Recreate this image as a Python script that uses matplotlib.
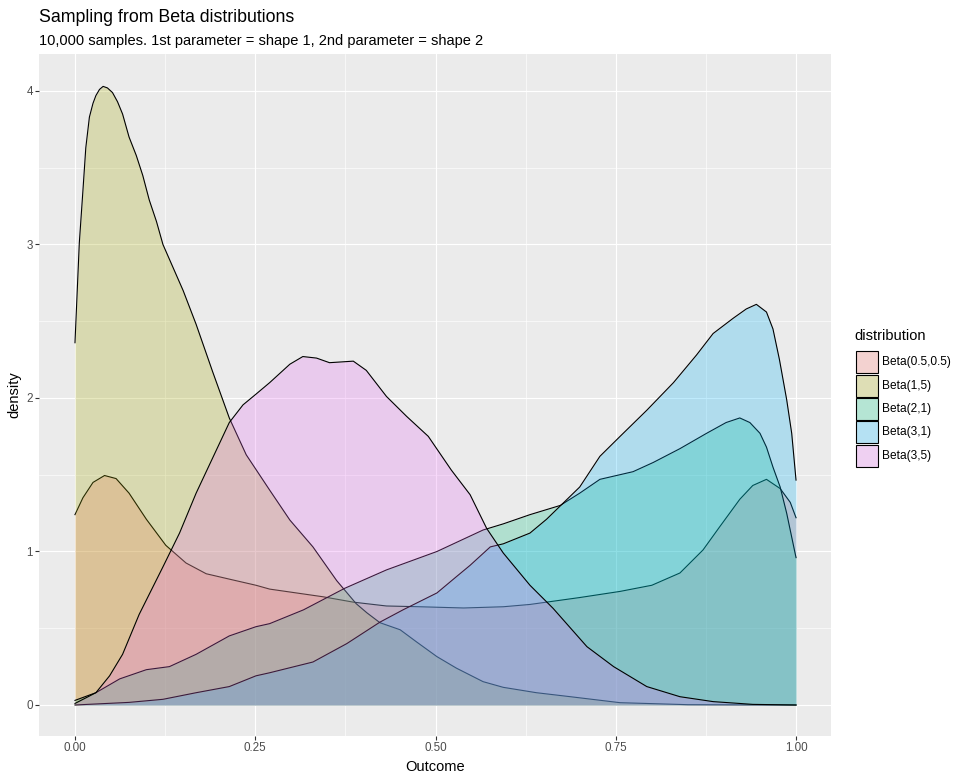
import matplotlib
matplotlib.use("Agg")
import matplotlib.pyplot as plt
from matplotlib.patches import Rectangle
from matplotlib.colors import to_rgba

plt.rcParams["font.family"] = ["Liberation Sans", "DejaVu Sans"]

labels = ["Beta(0.5,0.5)", "Beta(1,5)", "Beta(2,1)", "Beta(3,1)", "Beta(3,5)"]
colors = ["#F8766D", "#A3A500", "#00BF7D", "#00B0F6", "#E76BF3"]

# density curves
x_05_05 = [0, 0.011, 0.025, 0.041, 0.057, 0.075, 0.099, 0.126, 0.154, 0.182, 0.214,
           0.251, 0.27, 0.344, 0.386, 0.432, 0.478, 0.539, 0.594, 0.631, 0.654, 0.70,
           0.756, 0.80, 0.839, 0.871, 0.894, 0.922, 0.94, 0.959, 0.978, 0.992, 1.0]
y_05_05 = [1.24, 1.35, 1.45, 1.495, 1.475, 1.38, 1.21, 1.04, 0.925, 0.855, 0.82,
           0.78, 0.755, 0.705, 0.67, 0.645, 0.64, 0.632, 0.64, 0.655, 0.67, 0.70,
           0.74, 0.78, 0.86, 1.01, 1.16, 1.34, 1.43, 1.47, 1.41, 1.32, 1.22]

x_1_5 = [0, 0.006, 0.011, 0.015, 0.02, 0.025, 0.029, 0.034, 0.039, 0.045, 0.052,
         0.059, 0.066, 0.075, 0.085, 0.094, 0.103, 0.113, 0.122, 0.15, 0.168,
         0.191, 0.214, 0.2375, 0.27, 0.298, 0.33, 0.363, 0.39, 0.405, 0.423, 0.451,
         0.474, 0.502, 0.529, 0.566, 0.594, 0.64, 0.687, 0.756, 0.85, 1.0]
y_1_5 = [2.36, 3.01, 3.35, 3.63, 3.83, 3.92, 3.97, 4.01, 4.03, 4.02, 3.99,
         3.93, 3.85, 3.70, 3.58, 3.45, 3.29, 3.15, 3.0, 2.70, 2.48,
         2.17, 1.87, 1.63, 1.40, 1.205, 1.03, 0.81, 0.66, 0.60, 0.536, 0.49,
         0.41, 0.315, 0.24, 0.152, 0.115, 0.08, 0.054, 0.015, 0.002, 0.0]

x_2_1 = [0, 0.029, 0.062, 0.099, 0.131, 0.168, 0.214, 0.251, 0.27, 0.317, 0.374,
         0.432, 0.502, 0.566, 0.594, 0.631, 0.673, 0.70, 0.728, 0.774, 0.802, 0.839,
         0.876, 0.903, 0.922, 0.936, 0.95, 0.959, 0.968, 0.978, 0.987, 1.0]
y_2_1 = [0.03, 0.08, 0.17, 0.23, 0.25, 0.33, 0.45, 0.51, 0.53, 0.62, 0.76,
         0.88, 1.0, 1.14, 1.18, 1.24, 1.30, 1.38, 1.47, 1.52, 1.58, 1.67,
         1.77, 1.84, 1.87, 1.84, 1.77, 1.68, 1.55, 1.42, 1.25, 0.96]

x_3_1 = [0, 0.075, 0.122, 0.168, 0.214, 0.251, 0.27, 0.33, 0.377, 0.423, 0.455,
         0.502, 0.529, 0.548, 0.576, 0.594, 0.631, 0.654, 0.677, 0.70, 0.728, 0.756,
         0.793, 0.83, 0.862, 0.885, 0.913, 0.931, 0.945, 0.959, 0.968, 0.977, 0.987,
         0.994, 1.0]
y_3_1 = [0.0, 0.017, 0.037, 0.08, 0.12, 0.19, 0.21, 0.28, 0.40, 0.54, 0.62,
         0.73, 0.836, 0.91, 1.03, 1.05, 1.12, 1.21, 1.315, 1.42, 1.62, 1.75,
         1.92, 2.10, 2.28, 2.42, 2.52, 2.58, 2.61, 2.56, 2.45, 2.25, 1.99,
         1.77, 1.465]

x_3_5 = [0, 0.029, 0.048, 0.066, 0.089, 0.122, 0.145, 0.168, 0.196, 0.214, 0.233,
         0.251, 0.27, 0.298, 0.316, 0.335, 0.353, 0.386, 0.404, 0.432, 0.46, 0.49,
         0.522, 0.548, 0.571, 0.594, 0.631, 0.663, 0.71, 0.747, 0.793, 0.839, 0.885,
         0.94, 1.0]
y_3_5 = [0.01, 0.08, 0.19, 0.33, 0.59, 0.90, 1.12, 1.38, 1.66, 1.84, 1.955,
         2.025, 2.10, 2.22, 2.27, 2.26, 2.23, 2.24, 2.18, 2.01, 1.88, 1.75,
         1.53, 1.37, 1.15, 0.99, 0.78, 0.63, 0.38, 0.25, 0.12, 0.054, 0.022,
         0.004, 0.0]

curves = [(x_05_05, y_05_05), (x_1_5, y_1_5), (x_2_1, y_2_1), (x_3_1, y_3_1), (x_3_5, y_3_5)]

x_ticks = [0, 0.25, 0.5, 0.75, 1.0]
x_ticklabels = ["0.00", "0.25", "0.50", "0.75", "1.00"]
y_ticks = [0, 1, 2, 3, 4]

W, H = 969, 781
fig = plt.figure(figsize=(W / 100, H / 100), dpi=100)


def fx(px):
    return px / W


def fy(py):
    return 1 - py / H


ax = fig.add_axes([fx(39), fy(736), (831 - 39) / W, (736 - 54) / H])
ax.set_facecolor("#EBEBEB")
for s in ax.spines.values():
    s.set_visible(False)

ax.set_xlim(-0.0499, 1.0485)
ax.set_ylim(-0.202, 4.241)
ax.set_xticks(x_ticks)
ax.set_xticklabels(x_ticklabels)
ax.set_yticks(y_ticks)
ax.set_xticks([0.125, 0.375, 0.625, 0.875], minor=True)
ax.set_yticks([0.5, 1.5, 2.5, 3.5], minor=True)
ax.grid(which="major", color="white", linewidth=0.85)
ax.grid(which="minor", color="white", linewidth=0.45)
ax.set_axisbelow(True)
ax.tick_params(which="major", length=2.7, width=0.8, color="#333333",
               labelsize=8.4, labelcolor="#4D4D4D", pad=1.6)
ax.tick_params(which="minor", length=0)

for i, (xs, ys) in enumerate(curves):
    ax.fill_between(xs, 0, ys, color=colors[i], alpha=0.25, linewidth=0, zorder=2 + 2 * i)
    ax.plot(xs, ys, color="black", linewidth=0.8, zorder=3 + 2 * i)

ax.set_xlabel("Outcome", fontsize=10.5, labelpad=4.5)
ax.set_ylabel("density", fontsize=10.5, labelpad=4)

fig.text(fx(39), fy(21.7), "Sampling from Beta distributions", fontsize=12.8, va="baseline")
fig.text(fx(39), fy(45), "10,000 samples. 1st parameter = shape 1, 2nd parameter = shape 2",
         fontsize=10.5, va="baseline")

# legend
fig.text(fx(854), fy(340.5), "distribution", fontsize=10.5, va="baseline")
for i, lab in enumerate(labels):
    cy = 362.3 + i * 23.4
    fig.add_artist(Rectangle((fx(856), fy(cy + 11)), 22 / W, 22 / H,
                             transform=fig.transFigure, facecolor="#F2F2F2", edgecolor="none"))
    fig.add_artist(Rectangle((fx(856), fy(cy + 11)), 22 / W, 22 / H,
                             transform=fig.transFigure, facecolor=to_rgba(colors[i], 0.25),
                             edgecolor="black", linewidth=0.8))
    fig.text(fx(882), fy(cy), lab, fontsize=8.6, va="center")

fig.savefig("out.png", dpi=100)
